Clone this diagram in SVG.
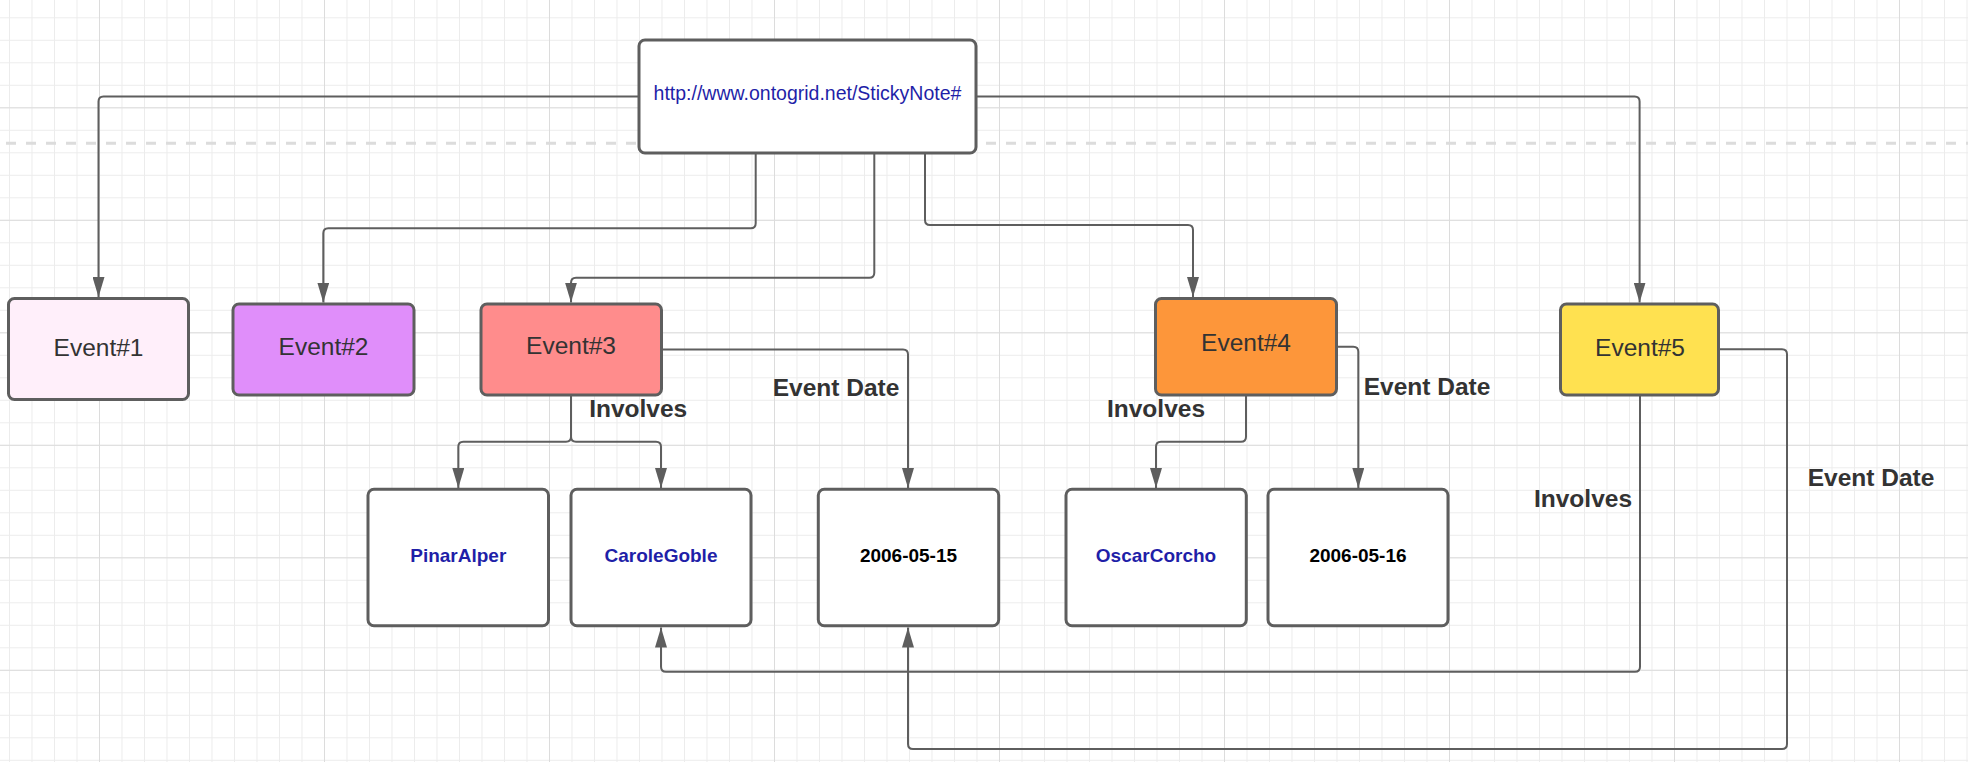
<svg xmlns="http://www.w3.org/2000/svg" width="1968" height="762" viewBox="0 0 1968 762">
  <defs>
    <pattern id="gMinor" patternUnits="userSpaceOnUse" x="9" y="17.3" width="22.5" height="22.5">
      <path d="M0 0V22.5M0 0H22.5" stroke="#ececec" stroke-width="2" fill="none"/>
    </pattern>
    <pattern id="gMajorV" patternUnits="userSpaceOnUse" x="99" y="0" width="225" height="762">
      <path d="M0 0V762" stroke="#dcdcdc" stroke-width="2" fill="none"/>
    </pattern>
    <pattern id="gMajorH" patternUnits="userSpaceOnUse" x="0" y="107.3" width="1968" height="112.5">
      <path d="M0 0H1968" stroke="#dcdcdc" stroke-width="2" fill="none"/>
    </pattern>
    <marker id="arrow" markerUnits="userSpaceOnUse" markerWidth="20" markerHeight="12" refX="20" refY="6" orient="auto" viewBox="0 0 20 12">
      <path d="M0 0L20 6L0 12Z" fill="#5e5e5e"/>
    </marker>
    <style>
      .box { stroke: #5e5e5e; stroke-width: 3; }
      .conn { fill: none; stroke: #5e5e5e; stroke-width: 2; marker-end: url(#arrow); }
      .evt { font-family: "Liberation Sans", Arial, sans-serif; font-size: 24.5px; fill: #333333; text-anchor: middle; }
      .uri { font-family: "Liberation Sans", Arial, sans-serif; font-size: 19.5px; fill: #1f1fa8; text-anchor: middle; }
      .name { font-family: "Liberation Sans", Arial, sans-serif; font-size: 19px; font-weight: bold; fill: #1f1fa8; text-anchor: middle; }
      .date { font-family: "Liberation Sans", Arial, sans-serif; font-size: 19px; font-weight: bold; fill: #000000; text-anchor: middle; }
      .lbl { font-family: "Liberation Sans", Arial, sans-serif; font-size: 24.5px; font-weight: bold; fill: #333333; text-anchor: middle; }
    </style>
  </defs>

  <g id="background">
    <rect x="0" y="0" width="1968" height="762" fill="#ffffff"/>
    <rect x="0" y="0" width="1968" height="762" fill="url(#gMinor)"/>
    <rect x="0" y="0" width="1968" height="762" fill="url(#gMajorV)"/>
    <rect x="0" y="0" width="1968" height="762" fill="url(#gMajorH)"/>
    <line x1="6" y1="143.3" x2="1968" y2="143.3" stroke="#dcdcdc" stroke-width="3" stroke-dasharray="10 10"/>
  </g>

  <g id="connectors">
    <path class="conn" d="M638 96.5H103.5Q98.5 96.5 98.5 101.5V297"/>
    <path class="conn" d="M755.7 153V223.3Q755.7 228.3 750.7 228.3H328.3Q323.3 228.3 323.3 233.3V302.5"/>
    <path class="conn" d="M874.3 153V272.7Q874.3 277.7 869.3 277.7H576Q571 277.7 571 282.7V302.5"/>
    <path class="conn" d="M925 153V220Q925 225 930 225H1188Q1193 225 1193 230V297"/>
    <path class="conn" d="M976 96.5H1634.6Q1639.6 96.5 1639.6 101.5V302.5"/>
    <path class="conn" d="M571 395V437Q571 441.7 566 441.7H463.3Q458.3 441.7 458.3 446.7V488"/>
    <path class="conn" d="M571 395V437Q571 441.7 576 441.7H656Q661 441.7 661 446.7V488"/>
    <path class="conn" d="M661.7 349.5H903Q908 349.5 908 354.5V488"/>
    <path class="conn" d="M1246 395V436.7Q1246 441.7 1241 441.7H1161Q1156 441.7 1156 446.7V488"/>
    <path class="conn" d="M1337 346.7H1353.3Q1358.3 346.7 1358.3 351.7V488"/>
    <path class="conn" d="M1640 395V666.7Q1640 671.7 1635 671.7H666Q661 671.7 661 666.7V627.5"/>
    <path class="conn" d="M1719 349.3H1782Q1787 349.3 1787 354.3V744Q1787 749 1782 749H913Q908 749 908 744V627.5"/>
    <text class="lbl" x="638.2" y="417.3">Involves</text>
    <text class="lbl" x="836" y="396">Event Date</text>
    <text class="lbl" x="1156" y="416.7">Involves</text>
    <text class="lbl" x="1427" y="395">Event Date</text>
    <text class="lbl" x="1583" y="507">Involves</text>
    <text class="lbl" x="1871" y="485.7">Event Date</text>
  </g>

  <g id="sticky-note">
    <rect class="box" x="639" y="40" width="337" height="113" rx="6" fill="#ffffff"/>
    <text class="uri" x="807.5" y="99.5">http://www.ontogrid.net/StickyNote#</text>
  </g>

  <g id="event1">
    <rect class="box" x="8.5" y="298.5" width="180" height="101" rx="6" fill="#ffeffa"/>
    <text class="evt" x="98.5" y="355.7">Event#1</text>
  </g>
  <g id="event2">
    <rect class="box" x="233" y="304" width="181" height="91" rx="6" fill="#e08efa"/>
    <text class="evt" x="323.5" y="354.5">Event#2</text>
  </g>
  <g id="event3">
    <rect class="box" x="481" y="304" width="180.5" height="91" rx="6" fill="#ff8c8c"/>
    <text class="evt" x="571" y="354.3">Event#3</text>
  </g>
  <g id="event4">
    <rect class="box" x="1155.5" y="298.5" width="181" height="96.5" rx="6" fill="#fd963a"/>
    <text class="evt" x="1246" y="351">Event#4</text>
  </g>
  <g id="event5">
    <rect class="box" x="1560.5" y="304" width="158" height="91" rx="6" fill="#ffe150"/>
    <text class="evt" x="1640" y="355.7">Event#5</text>
  </g>

  <g id="pinar-alper">
    <rect class="box" x="368" y="489.3" width="180.5" height="136.5" rx="6" fill="#ffffff"/>
    <text class="name" x="458.3" y="562">PinarAlper</text>
  </g>
  <g id="carole-goble">
    <rect class="box" x="571" y="489.3" width="180" height="136.5" rx="6" fill="#ffffff"/>
    <text class="name" x="661" y="562">CaroleGoble</text>
  </g>
  <g id="date-2006-05-15">
    <rect class="box" x="818.3" y="489.3" width="180.4" height="136.5" rx="6" fill="#ffffff"/>
    <text class="date" x="908.5" y="562">2006-05-15</text>
  </g>
  <g id="oscar-corcho">
    <rect class="box" x="1066" y="489.3" width="180.3" height="136.5" rx="6" fill="#ffffff"/>
    <text class="name" x="1156" y="562">OscarCorcho</text>
  </g>
  <g id="date-2006-05-16">
    <rect class="box" x="1268" y="489.3" width="180" height="136.5" rx="6" fill="#ffffff"/>
    <text class="date" x="1358" y="562">2006-05-16</text>
  </g>
</svg>
